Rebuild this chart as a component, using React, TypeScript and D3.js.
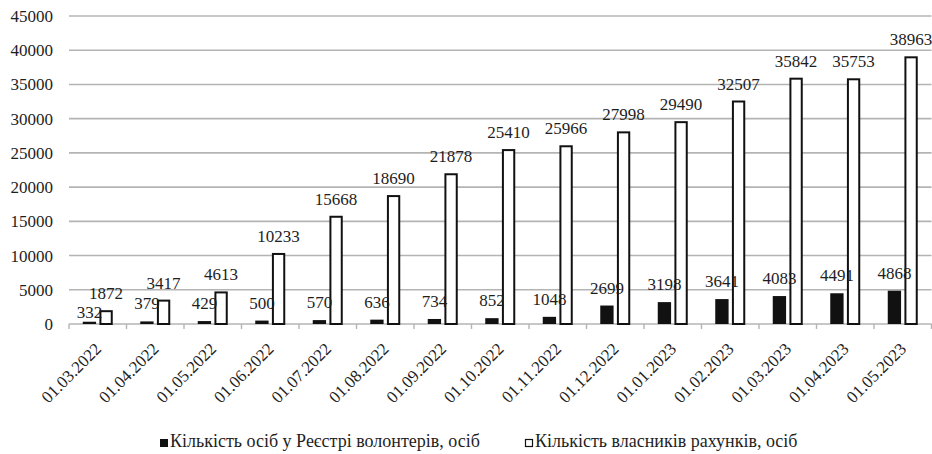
import React, { useEffect, useRef } from "react";
import * as d3 from "d3";

const categories = [
  "01.03.2022", "01.04.2022", "01.05.2022", "01.06.2022", "01.07.2022",
  "01.08.2022", "01.09.2022", "01.10.2022", "01.11.2022", "01.12.2022",
  "01.01.2023", "01.02.2023", "01.03.2023", "01.04.2023", "01.05.2023",
];
const volunteers = [332, 379, 429, 500, 570, 636, 734, 852, 1048, 2699, 3198, 3641, 4083, 4491, 4868];
const owners = [1872, 3417, 4613, 10233, 15668, 18690, 21878, 25410, 25966, 27998, 29490, 32507, 35842, 35753, 38963];
const yTicks = ["0", "5000", "10000", "15000", "20000", "25000", "30000", "35000", "40000", "45000"];
const seriesNames = ["Кількість осіб у Реєстрі волонтерів, осіб", "Кількість власників рахунків, осіб"];

const W = 932;
const H = 454;
const TEXT = "#1e1e1e";
const GRID = "#b4b4b4";
const fStyle = { fontFamily: "Liberation Serif" } as React.CSSProperties;

export default function App() {
  const ref = useRef<SVGSVGElement>(null);
  const x = d3.scaleBand<string>().domain(categories).range([69, 931.5]).padding(0);
  const y = d3.scaleLinear().domain([0, 45000]).range([324, 16]);
  const inner = d3.scaleBand<number>().domain([0, 1]).range([-15, 15]).paddingInner(0.2);
  const bw = inner.bandwidth();

  useEffect(() => {
    if (ref.current) {
      d3.select(ref.current).selectAll("text").style("font-family", "Liberation Serif", "important");
    }
  }, []);

  return (
    <svg ref={ref} width={W} height={H} style={{ position: "absolute", left: 0, top: 0 }}>
      <style>{`text { font-family: "Liberation Serif", serif !important; }`}</style>
      {yTicks.map((t) => (
        <g key={t}>
          {+t > 0 && <line x1={69} x2={931.5} y1={y(+t)} y2={y(+t)} stroke={GRID} strokeWidth={1.6} />}
          <text x={53} y={y(+t) + 6} textAnchor="end" fontSize={17} fill={TEXT} style={fStyle}>
            {t}
          </text>
        </g>
      ))}
      <line x1={69} x2={931.5} y1={y(0)} y2={y(0)} stroke={GRID} strokeWidth={1.6} />
      {categories.map((c, i) => {
        const x0 = x(c)!;
        return <line key={"t" + i} x1={x0} x2={x0} y1={y(0)} y2={y(0) + 5} stroke={GRID} strokeWidth={1.4} />;
      })}
      <line x1={931.5} x2={931.5} y1={y(0)} y2={y(0) + 5} stroke={GRID} strokeWidth={1.4} />
      {categories.map((c, i) => {
        const cx = x(c)! + x.bandwidth() / 2;
        const bx = cx + inner(0)!;
        const wx = cx + inner(1)!;
        const vb = volunteers[i];
        const vw = owners[i];
        const wLab = y(vw) - 12;
        let bLab = y(vb) - 12;
        if (Math.abs(wLab - bLab) < 14) bLab = y(vb) - 4;
        return (
          <g key={c}>
            <rect x={bx} y={y(vb)} width={bw} height={y(0) - y(vb)} fill="#111" />
            <rect x={wx + 1} y={y(vw)} width={bw - 2} height={y(0) - y(vw)} fill="#fff" stroke="#111" strokeWidth={2} />
            <text x={bx + bw / 2} y={bLab} textAnchor="middle" fontSize={17} fill={TEXT} style={fStyle}>
              {String(vb)}
            </text>
            <text x={wx + bw / 2} y={wLab} textAnchor="middle" fontSize={17} fill={TEXT} style={fStyle}>
              {String(vw)}
            </text>
            <text
              transform={`translate(${cx + 4.5},${y(0) + 26}) rotate(-45)`}
              textAnchor="end"
              fontSize={17}
              fill={TEXT}
              style={fStyle}
            >
              {c}
            </text>
          </g>
        );
      })}
      <g>
        <rect x={160} y={439} width={8} height={8} fill="#111" />
        <text x={170} y={447} fontSize={18} fill={TEXT} style={fStyle}>
          {seriesNames[0]}
        </text>
        <rect x={525.5} y={439.5} width={7} height={7} fill="#fff" stroke="#111" strokeWidth={1.2} />
        <text x={535} y={447} fontSize={18} fill={TEXT} style={fStyle}>
          {seriesNames[1]}
        </text>
      </g>
    </svg>
  );
}
